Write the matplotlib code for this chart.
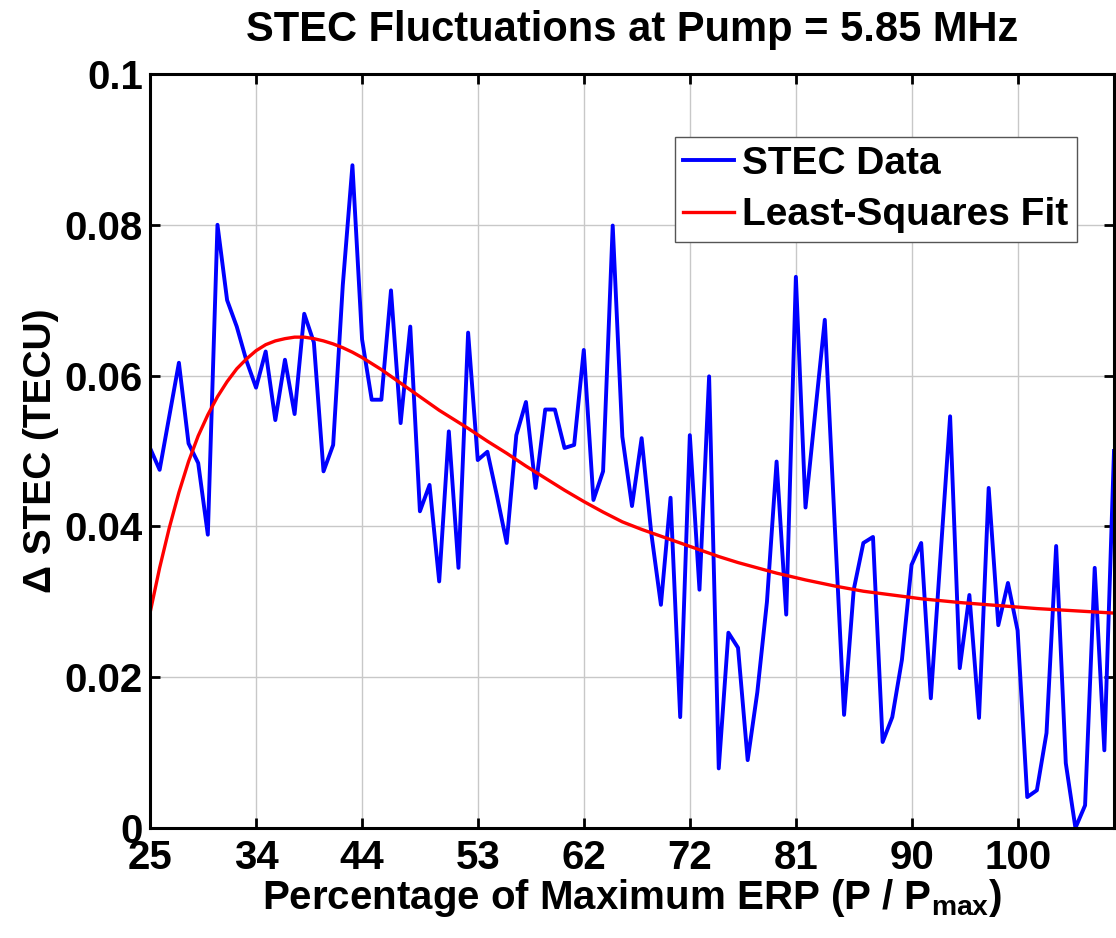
import matplotlib
matplotlib.use("Agg")
import matplotlib.pyplot as plt

plt.rcParams['font.family'] = ['Liberation Sans', 'DejaVu Sans']
plt.rcParams['font.weight'] = 'bold'
plt.rcParams['axes.labelweight'] = 'bold'
plt.rcParams['axes.titleweight'] = 'bold'
plt.rcParams['mathtext.fontset'] = 'custom'
plt.rcParams['mathtext.rm'] = 'Liberation Sans:bold'
plt.rcParams['mathtext.it'] = 'Liberation Sans:bold'
plt.rcParams['mathtext.bf'] = 'Liberation Sans:bold'

# STEC data, one value per power step
stec = [0.0504, 0.0475, 0.0546, 0.0617, 0.0510, 0.0484, 0.0389, 0.0800, 0.0700, 0.0665,
        0.0620, 0.0584, 0.0632, 0.0541, 0.0621, 0.0549, 0.0682, 0.0644, 0.0473, 0.0508,
        0.0720, 0.0879, 0.0648, 0.0568, 0.0568, 0.0713, 0.0537, 0.0665, 0.0420, 0.0455,
        0.0327, 0.0526, 0.0345, 0.0657, 0.0488, 0.0499, 0.0440, 0.0378, 0.0521, 0.0565,
        0.0451, 0.0555, 0.0555, 0.0504, 0.0508, 0.0634, 0.0435, 0.0473, 0.0799, 0.0519,
        0.0427, 0.0517, 0.0391, 0.0296, 0.0438, 0.0147, 0.0521, 0.0316, 0.0599, 0.0079,
        0.0259, 0.0239, 0.0090, 0.0180, 0.0300, 0.0486, 0.0283, 0.0731, 0.0425, 0.0550,
        0.0674, 0.0410, 0.0150, 0.0316, 0.0378, 0.0386, 0.0114, 0.0147, 0.0223, 0.0349,
        0.0378, 0.0172, 0.0360, 0.0546, 0.0212, 0.0309, 0.0146, 0.0451, 0.0269, 0.0325,
        0.0262, 0.0041, 0.0050, 0.0126, 0.0374, 0.0086, 0.0000, 0.0030, 0.0345, 0.0103,
        0.0500]
step = list(range(len(stec)))

# least-squares fit curve, read at these steps
fit_step = [0, 1, 2, 3, 4, 5, 6, 7, 8, 9, 10, 11, 12, 13, 14, 15, 16, 17, 18, 19,
            20, 21, 22, 23, 24, 25, 26, 27, 28, 29, 30, 31, 32, 33, 35, 37, 39, 41, 43, 45,
            47, 49, 51, 53, 55, 57, 59, 61, 63, 65, 68, 71, 74, 77, 80, 84, 88, 92, 96, 100]
fit_val = [0.0285, 0.0345, 0.0398, 0.0445, 0.0486, 0.0520, 0.0548, 0.0572, 0.0592, 0.0609,
           0.0622, 0.0633, 0.0641, 0.0646, 0.0649, 0.0651, 0.0651, 0.0649, 0.0646, 0.0642,
           0.0637, 0.0631, 0.0624, 0.0616, 0.0608, 0.0599, 0.0590, 0.0581, 0.0572, 0.0563,
           0.0554, 0.0546, 0.0538, 0.0530, 0.0513, 0.0497, 0.0480, 0.0464, 0.0448, 0.0433,
           0.0419, 0.0406, 0.0396, 0.0387, 0.0378, 0.0369, 0.0360, 0.0352, 0.0345, 0.0338,
           0.0329, 0.0321, 0.0314, 0.0309, 0.0304, 0.0299, 0.0295, 0.0291, 0.0288, 0.0285]

tick_step = [0, 11, 22, 34, 45, 56, 67, 79, 90]
tick_labels = ['25', '34', '44', '53', '62', '72', '81', '90', '100']
ytick_vals = [0, 0.02, 0.04, 0.06, 0.08, 0.1]
ytick_labels = ['0', '0.02', '0.04', '0.06', '0.08', '0.1']

fig = plt.figure(figsize=(11.16, 9.38), dpi=100)
ax = fig.add_axes([0.1344, 0.1173, 0.8638, 0.8038])

ax.plot(step, stec, color='#0000ff', lw=2.8, label='STEC Data')
ax.plot(fit_step, fit_val, color='#ff0000', lw=2.4, label='Least-Squares Fit')

ax.set_xlim(0, len(stec) - 1)
ax.set_ylim(0, 0.1)
ax.set_xticks(tick_step)
ax.set_xticklabels(tick_labels)
ax.set_yticks(ytick_vals)
ax.set_yticklabels(ytick_labels)
ax.grid(True, color='#c8c8c8', lw=1.0)
ax.tick_params(direction='in', length=7, width=2, top=True, right=True, labelsize=29)
ax.tick_params(axis='x', pad=8)
ax.tick_params(axis='y', pad=5)
for s in ax.spines.values():
    s.set_linewidth(2.2)

ax.set_title('STEC Fluctuations at Pump = 5.85 MHz', fontsize=30, pad=24)
ax.set_xlabel(r'Percentage of Maximum ERP (P / P$_{\mathrm{max}}$)', fontsize=29, labelpad=0)
ax.set_ylabel('\u0394 STEC (TECU)', fontsize=28, labelpad=4)

leg = ax.legend(loc='upper right', bbox_to_anchor=(0.9616, 0.9164), borderaxespad=0,
                fontsize=28, fancybox=False, framealpha=1, edgecolor='#555555',
                handlelength=1.3, handletextpad=0.22, borderpad=0.22, labelspacing=0.4)
leg.get_frame().set_linewidth(1.0)

fig.savefig('out.png', dpi=100)
